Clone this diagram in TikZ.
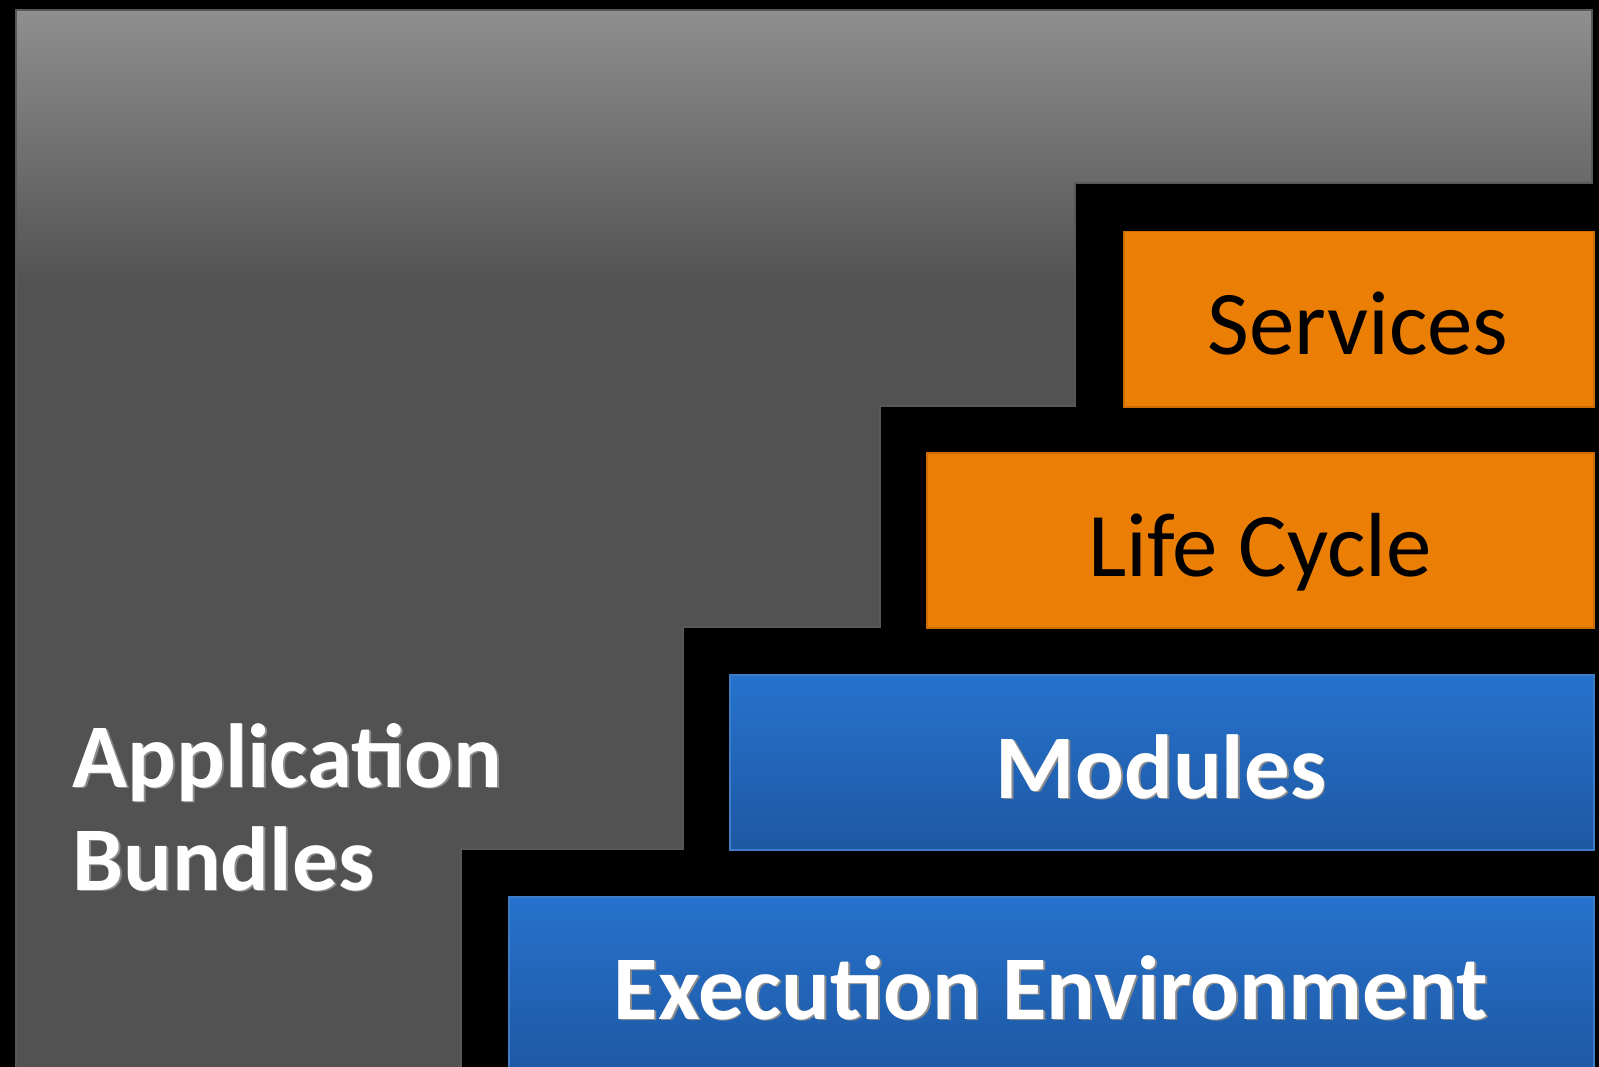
\documentclass[tikz,border=0pt]{standalone}
\usepackage{fontspec}
\setmainfont{Carlito}
\definecolor{grishaut}{RGB}{143,143,143}
\definecolor{grisfond}{RGB}{82,82,82}
\definecolor{grisbord}{RGB}{88,88,88}
\definecolor{orangebloc}{RGB}{235,127,5}
\definecolor{orangebord}{RGB}{205,108,4}
\definecolor{bleuhaut}{RGB}{38,114,205}
\definecolor{bleubas}{RGB}{30,88,163}
\definecolor{bleubord}{RGB}{62,124,200}
\begin{document}
\begin{tikzpicture}[x=1pt,y=-1pt,
  bloc/.style={line width=1.5pt, inner sep=0pt, anchor=north west, minimum height=175},
  blocorange/.style={bloc, draw=orangebord, fill=orangebloc},
  blocbleu/.style={bloc, draw=bleubord, top color=bleuhaut, bottom color=bleubas},
  texte/.style={font=\fontsize{91}{110}\selectfont, inner sep=0pt, anchor=base},
  textenoir/.style={texte, text=black},
  texteblanc/.style={texte, font=\fontsize{91}{110}\selectfont\bfseries, text=white},
  ombre/.style={texte, font=\fontsize{91}{110}\selectfont\bfseries, text=black!45}]

\useasboundingbox (0,0) rectangle (1599,1067);
\fill[black] (0,0) rectangle (1599,1067);
\clip (0,0) rectangle (1599,1067);

%%%%%%%%%%%%%%%%%%%%%%%%
% Escalier gris (Application Bundles)
%%%%%%%%%%%%%%%%%%%%%%%%
    \def \Escalier {(16,10) -- (1592,10) -- (1592,183) -- (1075,183) -- (1075,406) -- (880,406) -- (880,627) -- (683,627) -- (683,849) -- (461,849) -- (461,1080) -- (16,1080) -- cycle}
\begin{scope}
    \clip \Escalier;
    \fill[grisfond] (0,0) rectangle (1599,1080);
    % degrade du haut
    \fill[top color=grishaut, bottom color=grisfond] (0,10) rectangle (1599,285);
\end{scope}
\draw[grisbord, line width=2.5pt] \Escalier;

%%%%%%%%%%%%%%%%%%%%%%%%
% Blocs
%%%%%%%%%%%%%%%%%%%%%%%%
\node[blocorange, minimum width=470] (services) at (1123,231) {};
\node[blocorange, minimum width=667] (cycle) at (926,452) {};
\node[blocbleu, minimum width=864] (modules) at (729,674) {};
\node[blocbleu, minimum width=1085] (execution) at (508,896) {};

% textes (ligne de base ~124 sous le haut du bloc)
\node[textenoir] (t-services) at (1358,355) {Services};
\node[textenoir] (t-cycle) at (1260,576) {Life Cycle};
\foreach \nom/\x/\y/\txt in {modules/1161/798/Modules, execution/1051/1019/Execution Environment}{
    \node[ombre] at (\x+1.8,\y+1.8) {\txt};
    \node[texteblanc] (t-\nom) at (\x,\y) {\txt};}

% Application Bundles
\foreach \nom/\y/\txt in {appli/787/Application, bundles/890/Bundles}{
    \node[ombre, anchor=base west] at (73.8,\y+1.8) {\txt};
    \node[texteblanc, anchor=base west] (t-\nom) at (72,\y) {\txt};}

\end{tikzpicture}
\end{document}
